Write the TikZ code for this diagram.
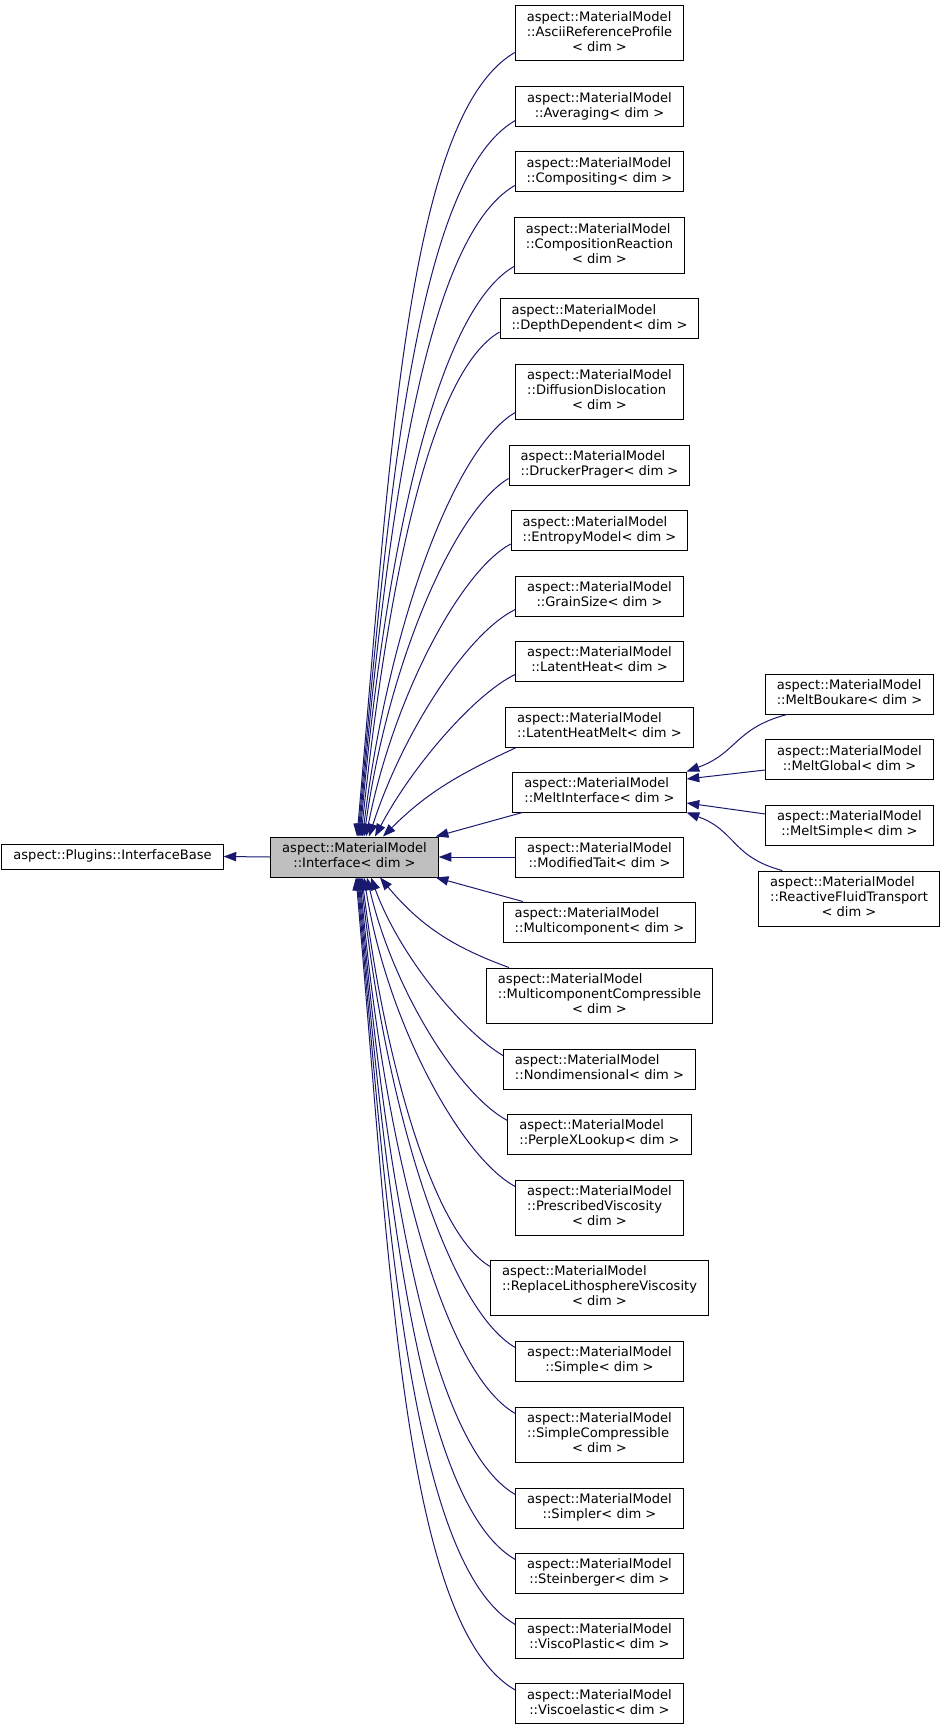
\documentclass[tikz,border=0pt]{standalone}
\usepackage{fontspec}
\setmainfont{DejaVu Sans}
\usetikzlibrary{arrows.meta,calc}
\definecolor{edgeblue}{HTML}{191970}
\definecolor{basegray}{HTML}{BFBFBF}
\newcommand{\lblone}[1]{\begin{tabular}{@{}c@{}}#1\end{tabular}}
\newcommand{\lbltwo}[2]{\begin{tabular}{@{}l@{}}#1\\\multicolumn{1}{@{}c@{}}{#2}\end{tabular}}
\newcommand{\lblthree}[3]{\begin{tabular}{@{}l@{}}#1\\#2\\\multicolumn{1}{@{}c@{}}{#3}\end{tabular}}
\tikzset{
  cls/.style={draw=black, fill=white, line width=0.75pt, inner xsep=8.6pt,
    inner ysep=3.75pt, font=\fontsize{9.8}{11.25}\selectfont},
  inh/.style={draw=edgeblue, line width=0.75pt, {Triangle[length=9.5pt,width=7pt]}-},
}
\begin{document}
\begin{tikzpicture}[x=0.75pt,y=0.75pt]
  \useasboundingbox (0,0) rectangle (944,-1730);
  \draw
    (112.5,-856.5) node[cls] (base) {\lblone{aspect::Plugins::InterfaceBase}}
    (354.5,-857) node[cls,fill=basegray] (iface) {\lbltwo{aspect::MaterialModel}{::Interface< dim >}}
    (599.5,-33.5) node[cls] (ascii) {\lblthree{aspect::MaterialModel}{::AsciiReferenceProfile}{< dim >}}
    (599.5,-107) node[cls] (avg) {\lbltwo{aspect::MaterialModel}{::Averaging< dim >}}
    (599.5,-172) node[cls] (compo) {\lbltwo{aspect::MaterialModel}{::Compositing< dim >}}
    (599.5,-245.5) node[cls] (react) {\lblthree{aspect::MaterialModel}{::CompositionReaction}{< dim >}}
    (599.5,-318.5) node[cls] (depth) {\lbltwo{aspect::MaterialModel}{::DepthDependent< dim >}}
    (599.5,-391.5) node[cls] (diffdis) {\lblthree{aspect::MaterialModel}{::DiffusionDislocation}{< dim >}}
    (599.5,-465) node[cls] (drucker) {\lbltwo{aspect::MaterialModel}{::DruckerPrager< dim >}}
    (599.5,-530.5) node[cls] (entropy) {\lbltwo{aspect::MaterialModel}{::EntropyModel< dim >}}
    (599.5,-596) node[cls] (grain) {\lbltwo{aspect::MaterialModel}{::GrainSize< dim >}}
    (599.5,-661) node[cls] (latent) {\lbltwo{aspect::MaterialModel}{::LatentHeat< dim >}}
    (599.5,-727) node[cls] (latentmelt) {\lbltwo{aspect::MaterialModel}{::LatentHeatMelt< dim >}}
    (599.5,-792) node[cls] (melt) {\lbltwo{aspect::MaterialModel}{::MeltInterface< dim >}}
    (599.5,-857) node[cls] (tait) {\lbltwo{aspect::MaterialModel}{::ModifiedTait< dim >}}
    (599.5,-922) node[cls] (multi) {\lbltwo{aspect::MaterialModel}{::Multicomponent< dim >}}
    (599.5,-995.5) node[cls] (multicomp) {\lblthree{aspect::MaterialModel}{::MulticomponentCompressible}{< dim >}}
    (599.5,-1069) node[cls] (nondim) {\lbltwo{aspect::MaterialModel}{::Nondimensional< dim >}}
    (599.5,-1134) node[cls] (perplex) {\lbltwo{aspect::MaterialModel}{::PerpleXLookup< dim >}}
    (599.5,-1207.5) node[cls] (prescribed) {\lblthree{aspect::MaterialModel}{::PrescribedViscosity}{< dim >}}
    (599.5,-1287.5) node[cls] (replace) {\lblthree{aspect::MaterialModel}{::ReplaceLithosphereViscosity}{< dim >}}
    (599.5,-1361) node[cls] (simple) {\lbltwo{aspect::MaterialModel}{::Simple< dim >}}
    (599.5,-1434.5) node[cls] (simplecomp) {\lblthree{aspect::MaterialModel}{::SimpleCompressible}{< dim >}}
    (599.5,-1508) node[cls] (simpler) {\lbltwo{aspect::MaterialModel}{::Simpler< dim >}}
    (599.5,-1573) node[cls] (stein) {\lbltwo{aspect::MaterialModel}{::Steinberger< dim >}}
    (599.5,-1638) node[cls] (viscoplastic) {\lbltwo{aspect::MaterialModel}{::ViscoPlastic< dim >}}
    (599.5,-1703.5) node[cls] (viscoelastic) {\lbltwo{aspect::MaterialModel}{::Viscoelastic< dim >}}
    (849.5,-694) node[cls] (boukare) {\lbltwo{aspect::MaterialModel}{::MeltBoukare< dim >}}
    (849.5,-759.5) node[cls] (meltglobal) {\lbltwo{aspect::MaterialModel}{::MeltGlobal< dim >}}
    (849.5,-825) node[cls] (meltsimple) {\lbltwo{aspect::MaterialModel}{::MeltSimple< dim >}}
    (849,-898.5) node[cls] (reactive) {\lblthree{aspect::MaterialModel}{::ReactiveFluidTransport}{< dim >}};
  \begin{scope}[inh]
    \draw (base.east) -- (iface.west);
    % children above the interface
    \draw ($(iface.north)+(2.5,0)$) to[out=85,in=210,out looseness=1.2,in looseness=0.4] ($(ascii.south west)+(0,9)$);
    \draw ($(iface.north)+(3.5,0)$) to[out=85,in=210,out looseness=1.2,in looseness=0.4] ($(avg.south west)+(0,7)$);
    \draw ($(iface.north)+(4.5,0)$) to[out=85,in=210,out looseness=1.2,in looseness=0.4] ($(compo.south west)+(0,7)$);
    \draw ($(iface.north)+(5.5,0)$) to[out=85,in=210,out looseness=1.2,in looseness=0.4] ($(react.south west)+(0,7)$);
    \draw ($(iface.north)+(6.5,0)$) to[out=84,in=210,out looseness=1.2,in looseness=0.4] ($(depth.south west)+(0,7)$);
    \draw ($(iface.north)+(8,0)$) to[out=83,in=210,out looseness=1.2,in looseness=0.4] ($(diffdis.south west)+(0,7)$);
    \draw ($(iface.north)+(9.5,0)$) to[out=82,in=210,out looseness=1.2,in looseness=0.4] ($(drucker.south west)+(0,7)$);
    \draw ($(iface.north)+(11.5,0)$) to[out=79,in=208,out looseness=1.1,in looseness=0.45] ($(entropy.south west)+(0,7)$);
    \draw ($(iface.north)+(14.5,0)$) to[out=72,in=206,out looseness=1.05,in looseness=0.5] ($(grain.south west)+(0,7)$);
    \draw ($(iface.north)+(20.5,0)$) to[out=62,in=205,out looseness=1,in looseness=0.5] ($(latent.south west)+(0,7)$);
    \draw ($(iface.north)+(28.5,0)$) to[out=45,in=205] ($(latentmelt.south west)+(11,0)$);
    \draw ($(iface.north east)+(-3,0)$) -- ($(melt.south west)+(10,0)$);
    \draw (iface.east) -- (tait.west);
    \draw ($(iface.south east)+(-3,0)$) -- ($(multi.north west)+(20,0)$);
    % children below the interface
    \draw ($(iface.south)+(25.5,0)$) to[out=-50,in=160] ($(multicomp.north west)+(23,0)$);
    \draw ($(iface.south)+(16.5,0)$) to[out=-70,in=150,out looseness=1,in looseness=0.5] ($(nondim.north west)+(0,-7)$);
    \draw ($(iface.south)+(12.5,0)$) to[out=-77,in=152,out looseness=1.05,in looseness=0.5] ($(perplex.north west)+(0,-7)$);
    \draw ($(iface.south)+(9.5,0)$) to[out=-81,in=152,out looseness=1.1,in looseness=0.45] ($(prescribed.north west)+(0,-7)$);
    \draw ($(iface.south)+(7.5,0)$) to[out=-83,in=150,out looseness=1.2,in looseness=0.4] ($(replace.north west)+(0,-7)$);
    \draw ($(iface.south)+(6.5,0)$) to[out=-84,in=150,out looseness=1.2,in looseness=0.4] ($(simple.north west)+(0,-7)$);
    \draw ($(iface.south)+(5.5,0)$) to[out=-85,in=150,out looseness=1.2,in looseness=0.4] ($(simplecomp.north west)+(0,-7)$);
    \draw ($(iface.south)+(4.5,0)$) to[out=-85,in=150,out looseness=1.2,in looseness=0.4] ($(simpler.north west)+(0,-7)$);
    \draw ($(iface.south)+(3.5,0)$) to[out=-85,in=150,out looseness=1.2,in looseness=0.4] ($(stein.north west)+(0,-7)$);
    \draw ($(iface.south)+(2.5,0)$) to[out=-85,in=150,out looseness=1.2,in looseness=0.4] ($(viscoplastic.north west)+(0,-7)$);
    \draw ($(iface.south)+(1.5,0)$) to[out=-85,in=150,out looseness=1.2,in looseness=0.4] ($(viscoelastic.north west)+(0,-7)$);
    % melt models
    \draw (melt.north east) to[out=20,in=195,looseness=1.2] ($(boukare.south west)+(22,0)$);
    \draw ($(melt.east)+(0,13)$) -- ($(meltglobal.west)+(0,-10.5)$);
    \draw ($(melt.east)+(0,-11)$) -- ($(meltsimple.west)+(0,11)$);
    \draw (melt.south east) to[out=-20,in=165,looseness=1.2] ($(reactive.north west)+(24,0)$);
  \end{scope}
\end{tikzpicture}
\end{document}
